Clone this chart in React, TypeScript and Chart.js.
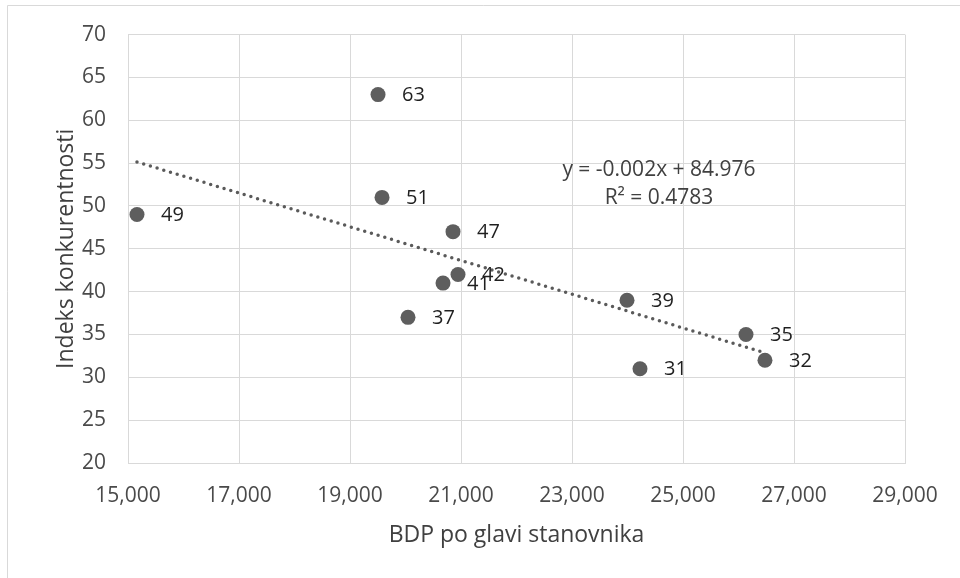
import React, { useEffect, useRef } from "react";
import { Chart, registerables } from "chart.js";

Chart.register(...registerables);

// GDP per capita (x) and competitiveness index (y)
const gdpValues = [15162, 19505, 19577, 20856, 20946, 20676, 20045, 23991, 24225, 26135, 26477];
const indexValues = [49, 63, 51, 47, 42, 41, 37, 39, 31, 35, 32];
const pointLabels = ["49", "63", "51", "47", "42", "41", "37", "39", "31", "35", "32"];

const xTitle = "BDP po glavi stanovnika";
const yTitle = "Indeks konkurentnosti";
const equationLines = ["y = -0.002x + 84.976", "R² = 0.4783"];

const X_MIN = 15000;
const X_MAX = 29000;
const X_STEP = 2000;
const Y_MIN = 20;
const Y_MAX = 70;
const Y_STEP = 5;

const FONT = "'Open Sans', 'DejaVu Sans', sans-serif";

function regression(xs: number[], ys: number[]) {
  const n = xs.length;
  const mx = xs.reduce((a, b) => a + b, 0) / n;
  const my = ys.reduce((a, b) => a + b, 0) / n;
  let sxy = 0;
  let sxx = 0;
  for (let i = 0; i < n; i++) {
    sxy += (xs[i] - mx) * (ys[i] - my);
    sxx += (xs[i] - mx) * (xs[i] - mx);
  }
  const slope = sxy / sxx;
  return { slope, intercept: my - slope * mx };
}

export default function App() {
  const canvasRef = useRef<HTMLCanvasElement | null>(null);

  useEffect(() => {
    document.body.style.margin = "0";
    const canvas = canvasRef.current;
    if (!canvas) return;

    const { slope, intercept } = regression(gdpValues, indexValues);
    const xLo = Math.min(...gdpValues);
    const xHi = Math.max(...gdpValues);

    const framePlugin = {
      id: "frame",
      beforeDraw(chart: any) {
        const ctx = chart.ctx;
        ctx.save();
        ctx.fillStyle = "#ffffff";
        ctx.fillRect(0, 0, chart.width, chart.height);
        ctx.strokeStyle = "#d9d9d9";
        ctx.lineWidth = 1;
        ctx.beginPath();
        ctx.moveTo(7.5, chart.height);
        ctx.lineTo(7.5, 5.5);
        ctx.lineTo(chart.width, 5.5);
        ctx.stroke();
        ctx.restore();
      },
    };

    const labelPlugin = {
      id: "pointLabels",
      afterDatasetsDraw(chart: any) {
        const ctx = chart.ctx;
        const meta = chart.getDatasetMeta(0);
        ctx.save();
        ctx.font = `20px ${FONT}`;
        ctx.fillStyle = "#1f1f1f";
        ctx.textAlign = "left";
        ctx.textBaseline = "middle";
        meta.data.forEach((el: any, i: number) => {
          ctx.fillText(pointLabels[i], el.x + 24, el.y + 1);
        });
        // trendline equation
        const ca = chart.chartArea;
        ctx.font = `21px ${FONT}`;
        ctx.fillStyle = "#404040";
        ctx.textAlign = "center";
        ctx.fillText(equationLines[0], ca.left + 531, ca.top + 135);
        ctx.fillText(equationLines[1], ca.left + 531, ca.top + 163);
        ctx.restore();
      },
    };

    const chart = new Chart(canvas, {
      type: "scatter",
      data: {
        datasets: [
          {
            data: gdpValues.map((x, i) => ({ x, y: indexValues[i] })),
            backgroundColor: "#5e5e5e",
            borderColor: "#5e5e5e",
            pointRadius: 7.5,
            pointHoverRadius: 7.5,
            borderWidth: 0,
          },
          {
            data: [
              { x: xLo, y: intercept + slope * xLo },
              { x: xHi, y: intercept + slope * xHi },
            ],
            showLine: true,
            pointRadius: 0,
            borderColor: "#5a5a5a",
            borderWidth: 3.5,
            borderDash: [0, 7],
            borderCapStyle: "round",
            fill: false,
          } as any,
        ],
      },
      options: {
        responsive: false,
        animation: false,
        layout: { padding: { top: 34, right: 55, left: 0, bottom: 0 } },
        plugins: {
          legend: { display: false },
          tooltip: { enabled: false },
        },
        scales: {
          x: {
            type: "linear",
            min: X_MIN,
            max: X_MAX,
            afterFit: (s: any) => {
              s.height = 115;
            },
            ticks: {
              stepSize: X_STEP,
              padding: 20,
              color: "#4a4a4a",
              font: { family: FONT, size: 21 },
              callback: (v: any) => Number(v).toLocaleString("en-US"),
            },
            grid: { color: "#d9d9d9", lineWidth: 1, drawTicks: false },
            border: { color: "#d9d9d9" },
            title: {
              display: true,
              text: xTitle,
              color: "#404040",
              font: { family: FONT, size: 23 },
              padding: { top: 0, bottom: 29 },
            },
          },
          y: {
            type: "linear",
            min: Y_MIN,
            max: Y_MAX,
            afterFit: (s: any) => {
              s.width = 128;
            },
            ticks: {
              stepSize: Y_STEP,
              padding: 22,
              color: "#4a4a4a",
              font: { family: FONT, size: 21 },
            },
            grid: { color: "#d9d9d9", lineWidth: 1, drawTicks: false },
            border: { color: "#d9d9d9" },
            title: {
              display: true,
              text: yTitle,
              color: "#404040",
              font: { family: FONT, size: 23 },
              padding: { top: 53, bottom: 0 },
            },
          },
        },
      },
      plugins: [framePlugin, labelPlugin],
    } as any);

    return () => chart.destroy();
  }, []);

  return (
    <div style={{ position: "absolute", left: 0, top: 0, width: 960, height: 578 }}>
      <canvas ref={canvasRef} width={960} height={578} />
    </div>
  );
}
